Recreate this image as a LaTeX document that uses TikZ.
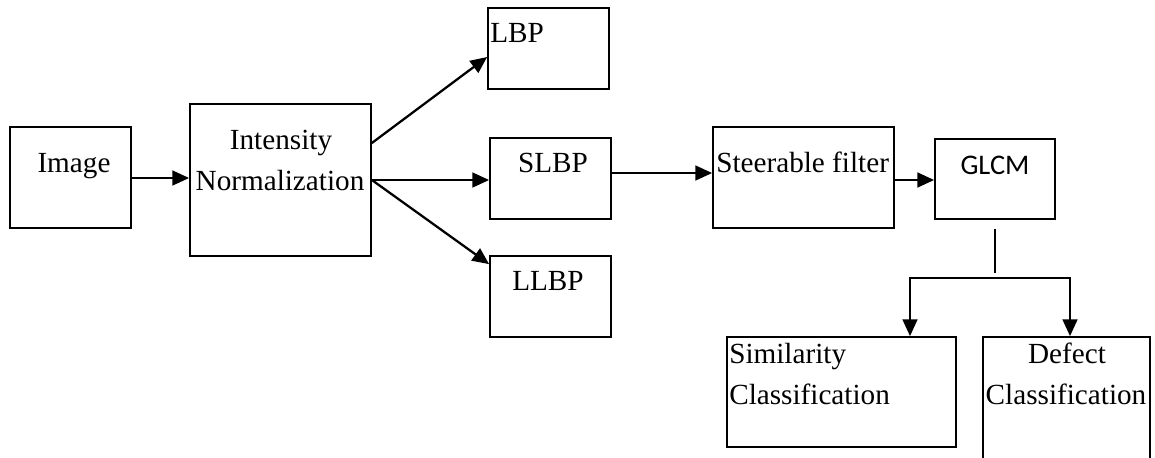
\documentclass[tikz,border=0pt]{standalone}
\usepackage{fontspec}
\setmainfont{Liberation Serif}[Ligatures=NoCommon]
\newfontfamily\glcmfont{Carlito}
\usetikzlibrary{arrows.meta,calc}
\tikzset{
  box/.style 2 args={draw, line width=1.3pt, rectangle, inner sep=0pt,
    minimum width=#1*0.75pt, minimum height=#2*0.75pt},
  txt/.style={inner sep=0pt, anchor=base, font=\fontsize{21.9pt}{30pt}\selectfont},
  txtl/.style={txt, anchor=base west},
  arr/.style={line width=1.7pt, -{Triangle[length=12.5pt,width=11pt]}},
  arrtwo/.style={line width=1.7pt, {Triangle[length=12.5pt,width=11pt]}-{Triangle[length=12.5pt,width=11pt]}, line join=miter},
  thin/.style={line width=0.9pt}
}
\begin{document}
\begin{tikzpicture}[x=0.75pt,y=-0.75pt]
\useasboundingbox (0,0) rectangle (1155,457);
% boxes
\node[box={121}{101}] (img) at (70.5,177.5) {};
\node[box={181}{152}] (int) at (280.5,180) {};
\node[box={121}{81}] (lbp) at (548.5,48.5) {};
\node[box={121}{81}] (slbp) at (550.5,178.5) {};
\node[box={121}{81}] (llbp) at (550.5,296.5) {};
\node[box={181}{101}] (steer) at (803.5,177.5) {};
\node[box={120}{80}] (glcm) at (995,179) {};
\node[box={229}{110}] (sim) at (841.5,392) {};
\node[box={167}{143}] (def) at (1066.5,408.5) {};
% texts
\node[txt] (timg) at (74,172) {Image};
\node[txt] (tint1) at (281,149) {Intensity};
\node[txt] (tint2) at (280,190) {Normalization};
\node[txtl] (tlbp) at (490,42) {LBP};
\node[txt] (tslbp) at (553,172) {SLBP};
\node[txt] (tllbp) at (548,290) {LLBP};
\node[txtl] (tsteer) at (716,172) {Steerable filter};
\node[txt, font=\glcmfont\fontsize{21.3pt}{30pt}\selectfont] (tglcm) at (995,174) {GLCM};
\node[txtl] (tsim1) at (729,363) {Similarity};
\node[txtl] (tsim2) at (729,404) {Classification};
\node[txt] (tdef1) at (1067,363) {Defect};
\node[txt] (tdef2) at (1066,404) {Classification};
% connectors
\draw[arr] (img.east |- 0,178) -- (int.west |- 0,178);
\draw[arr] ($(int.east)+(0,-37)$) -- ($(lbp.west)+(0,8.5)$);
\draw[arr] (int.east) -- (int.east -| slbp.west);
\draw[arr] (int.east) -- ($(llbp.north west)+(0,9)$);
\draw[arr] (slbp.east |- 0,173) -- (steer.west |- 0,173);
\draw[arr] (steer.east |- 0,180) -- (glcm.west |- 0,180);
\coordinate (brTop) at (995,273);
\coordinate (brL) at (910,278);
\coordinate (brR) at (1070,278);
\draw[thin] ($(glcm.south)+(0,9)$) -- (brTop);
\draw[arrtwo] (brL |- sim.north) -- (brL) -- (brR) -- (brR |- def.north);
\end{tikzpicture}
\end{document}
